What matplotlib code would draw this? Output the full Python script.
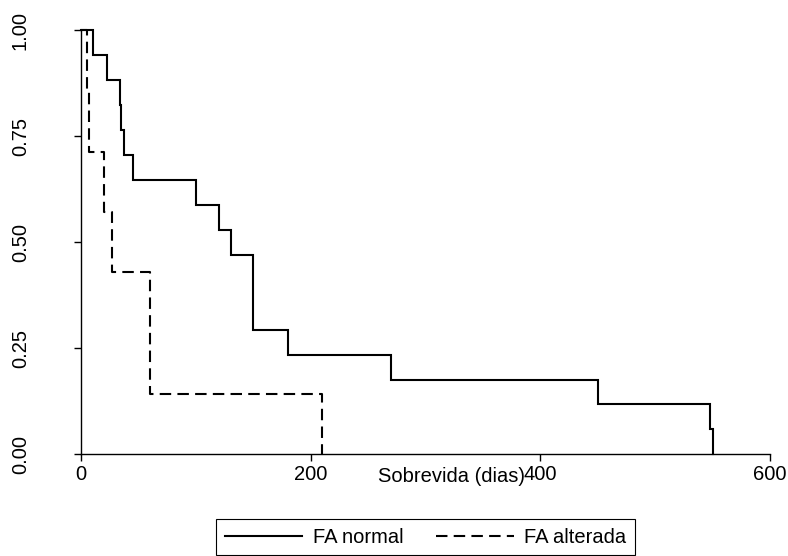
import matplotlib
matplotlib.use("Agg")
import matplotlib.pyplot as plt

plt.rcParams['font.family'] = ['Liberation Sans', 'DejaVu Sans']

# Kaplan-Meier estimates
normal_t = [0, 10, 22, 34, 35, 37, 45, 100, 120, 130, 150, 180, 270, 450, 548, 550]
normal_s = [1.000, 0.941, 0.882, 0.824, 0.765, 0.706, 0.647, 0.588, 0.529, 0.471,
            0.294, 0.235, 0.176, 0.118, 0.059, 0.000]
alterada_t = [0, 5, 7, 20, 27, 60, 210]
alterada_s = [1.000, 0.857, 0.714, 0.571, 0.429, 0.143, 0.000]

xticks = [0, 200, 400, 600]
yticks = [0.00, 0.25, 0.50, 0.75, 1.00]
ytick_labels = ["0.00", "0.25", "0.50", "0.75", "1.00"]
labels = ["FA normal", "FA alterada"]
xlabel = "Sobrevida (dias)"

fs = 14.5
fig = plt.figure(figsize=(7.88, 5.56), dpi=100)
ax = fig.add_axes([81.3/788, 1 - 454.3/556, (770 - 81.3)/788, (454.3 - 30.3)/556])

l1, = ax.step(normal_t, normal_s, where='post', color='black', lw=1.5, clip_on=False,
              solid_joinstyle='miter')
l2, = ax.step(alterada_t, alterada_s, where='post', color='black', lw=1.5, clip_on=False,
              linestyle=(0, (5.5, 3)))

ax.set_xlim(0, 600)
ax.set_ylim(0, 1)
for s in ['top', 'right']:
    ax.spines[s].set_visible(False)
for s in ['left', 'bottom']:
    ax.spines[s].set_linewidth(1.0)

ax.set_xticks(xticks)
ax.set_xticklabels([str(v) for v in xticks], fontsize=fs)
ax.set_yticks(yticks)
ax.set_yticklabels(ytick_labels, fontsize=fs, rotation=90, va='center')
ax.tick_params(axis='x', length=5, width=1.0, pad=2.5)
ax.tick_params(axis='y', length=5, width=1.0, pad=32)

ax.set_xlabel(xlabel, fontsize=fs)
ax.xaxis.set_label_coords((451 - 81.3)/688.7, -(476 - 454.3)/424)
ax.xaxis.label.set_va('center')

leg = fig.legend([l1, l2], labels, loc='lower center', bbox_to_anchor=(425.5/788, 0.0015),
                 ncol=2, fontsize=fs, frameon=True, fancybox=False, framealpha=1,
                 edgecolor='black', borderpad=0.42, handlelength=3.85, handletextpad=0.5,
                 columnspacing=1.65, borderaxespad=0)
leg.get_frame().set_linewidth(0.8)

fig.savefig("out.png", dpi=100)
